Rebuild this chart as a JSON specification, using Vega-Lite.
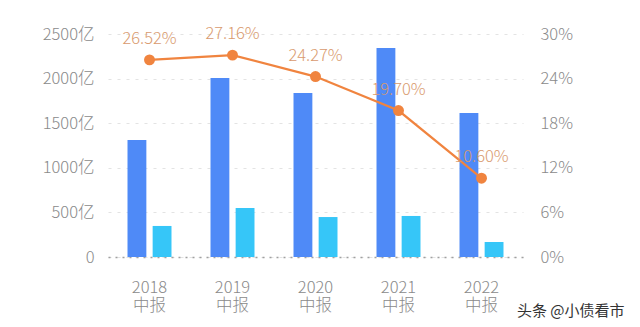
{
  "$schema": "https://vega.github.io/schema/vega-lite/v6.json",
  "autosize": "none",
  "width": 415,
  "height": 223,
  "padding": {"left": 108, "top": 34, "right": 117, "bottom": 70},
  "background": "#ffffff",
  "config": {
    "view": {"stroke": null},
    "font": "Noto Sans CJK SC",
    "axis": {"labelFont": "Noto Sans CJK SC", "labelColor": "#8a8a8a", "labelFontSize": 16.5, "labelFontWeight": 300, "titleFont": "Noto Sans CJK SC"}
  },
  "datasets": {
    "bars": [
      {"year": "2018", "series": "A", "value": 1312},
      {"year": "2018", "series": "B", "value": 348},
      {"year": "2019", "series": "A", "value": 2007},
      {"year": "2019", "series": "B", "value": 549},
      {"year": "2020", "series": "A", "value": 1839},
      {"year": "2020", "series": "B", "value": 448},
      {"year": "2021", "series": "A", "value": 2343},
      {"year": "2021", "series": "B", "value": 460},
      {"year": "2022", "series": "A", "value": 1614},
      {"year": "2022", "series": "B", "value": 168}
    ],
    "rate": [
      {"year": "2018", "rate": 26.52, "label": "26.52%"},
      {"year": "2019", "rate": 27.16, "label": "27.16%"},
      {"year": "2020", "rate": 24.27, "label": "24.27%"},
      {"year": "2021", "rate": 19.70, "label": "19.70%"},
      {"year": "2022", "rate": 10.60, "label": "10.60%"}
    ]
  },
  "title": {
    "text": "头条 @小债看市",
    "orient": "bottom",
    "anchor": "end",
    "fontSize": 15,
    "fontWeight": "normal",
    "color": "#333333",
    "offset": 0,
    "dx": 52,
    "dy": -10
  },
  "encoding": {
    "x": {
      "field": "year",
      "type": "nominal",
      "sort": null,
      "scale": {"paddingInner": 0.47, "paddingOuter": 0.235},
      "axis": {
        "title": null,
        "labelAngle": 0,
        "ticks": false,
        "domain": true,
        "domainColor": "#a0a0a0",
        "domainDash": [2, 5],
        "domainWidth": 1.5,
        "labelPadding": 22,
        "labelLineHeight": 18,
        "labelExpr": "[datum.value, '中报']"
      }
    }
  },
  "layer": [
    {
      "data": {"name": "bars"},
      "mark": {"type": "bar"},
      "encoding": {
        "xOffset": {"field": "series", "type": "nominal", "scale": {"paddingInner": 0.25}},
        "y": {
          "field": "value",
          "type": "quantitative",
          "scale": {"domain": [0, 2500]},
          "axis": {
            "title": null,
            "values": [0, 500, 1000, 1500, 2000, 2500],
            "labelExpr": "datum.value == 0 ? '0' : datum.value + '亿'",
            "domain": false,
            "ticks": false,
            "labelPadding": 14,
            "grid": true,
            "gridColor": "#e3e3e3",
            "gridDash": [3, 6],
            "gridWidth": 1
          }
        },
        "color": {
          "field": "series",
          "type": "nominal",
          "scale": {"domain": ["A", "B"], "range": ["#4f8af7", "#36c6f8"]},
          "legend": null
        }
      }
    },
    {
      "data": {"name": "rate"},
      "encoding": {
        "y": {
          "field": "rate",
          "type": "quantitative",
          "scale": {"domain": [0, 30]},
          "axis": {
            "orient": "right",
            "title": null,
            "values": [0, 6, 12, 18, 24, 30],
            "labelExpr": "datum.value + '%'",
            "domain": false,
            "ticks": false,
            "grid": false,
            "labelPadding": 17
          }
        }
      },
      "layer": [
        {"mark": {"type": "line", "color": "#f0843f", "strokeWidth": 2.2}},
        {"mark": {"type": "point", "filled": true, "color": "#f0843f", "size": 120, "opacity": 1}},
        {
          "mark": {"type": "text", "color": "#d99a6e", "fontSize": 16.5, "fontWeight": 300, "dy": -21},
          "encoding": {"text": {"field": "label"}}
        }
      ]
    }
  ],
  "resolve": {"scale": {"y": "independent"}}
}
